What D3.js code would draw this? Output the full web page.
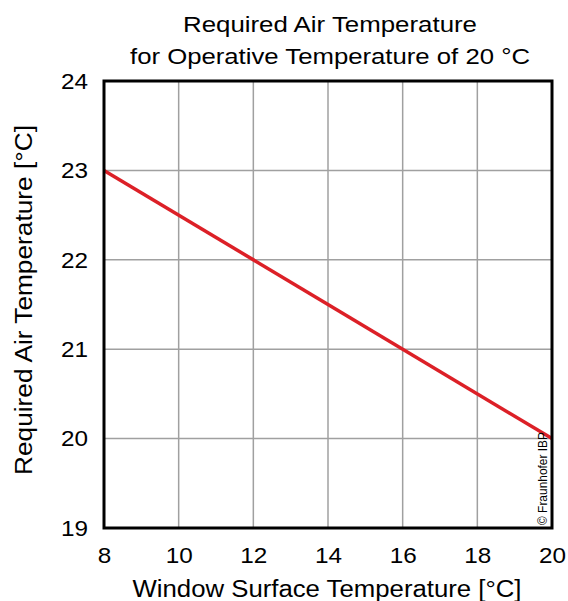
<!DOCTYPE html>
<html>
<head>
<meta charset="utf-8">
<script src="https://cdn.jsdelivr.net/npm/d3@7"></script>
<style>
  html, body { margin: 0; padding: 0; background: #fff; }
  svg { display: block; font-family: "Liberation Sans", Arial, sans-serif; }
</style>
</head>
<body>
<svg id="chart" width="568" height="601"></svg>
<script>
// Window surface temperature (°C) and the air temperature needed for 20 °C operative temperature
const windowTemp = [8, 14, 20];
const airTemp = [23, 21.5, 20];
const xTicks = [8, 10, 12, 14, 16, 18, 20];
const yTicks = [19, 20, 21, 22, 23, 24];
const titleLines = ["Required Air Temperature", "for Operative Temperature of 20 °C"];
const xTitle = "Window Surface Temperature [°C]";
const yTitle = "Required Air Temperature [°C]";
const credit = "© Fraunhofer IBP";

const svg = d3.select("#chart");
const plotLeft = 104, plotRight = 552, plotTop = 81, plotBottom = 528;

const x = d3.scaleLinear().domain([8, 20]).range([plotLeft, plotRight]);
const y = d3.scaleLinear().domain([19, 24]).range([plotBottom, plotTop]);

// grid
const grid = svg.append("g");
grid.selectAll(".gx").data(xTicks).join("line")
  .attr("x1", d => x(d)).attr("x2", d => x(d))
  .attr("y1", plotTop).attr("y2", plotBottom)
  .attr("stroke", "#a0a0a0").attr("stroke-width", 1.5);
grid.selectAll(".gy").data(yTicks).join("line")
  .attr("y1", d => y(d)).attr("y2", d => y(d))
  .attr("x1", plotLeft).attr("x2", plotRight)
  .attr("stroke", "#a0a0a0").attr("stroke-width", 1.5);

// axes (labels only; frame drawn separately)
const fmt = d3.format("d");
const xAxis = svg.append("g").attr("transform", `translate(0,${plotBottom})`)
  .call(d3.axisBottom(x).tickValues(xTicks).tickSize(0).tickPadding(19).tickFormat(fmt));
const yAxis = svg.append("g").attr("transform", `translate(${plotLeft},0)`)
  .call(d3.axisLeft(y).tickValues(yTicks).tickSize(0).tickPadding(16).tickFormat(fmt));
[xAxis, yAxis].forEach(a => {
  a.select(".domain").remove();
  a.selectAll("text").attr("font-size", 22.5).attr("fill", "#000")
    .attr("font-family", "Liberation Sans, Arial, sans-serif")
    .attr("lengthAdjust", "spacingAndGlyphs")
    .attr("textLength", d => 13.5 * fmt(d).length);
});

// data line
const line = d3.line().x((d, i) => x(windowTemp[i])).y(d => y(d));
svg.append("path").datum(airTemp)
  .attr("d", line)
  .attr("fill", "none")
  .attr("stroke", "#dc2027")
  .attr("stroke-width", 3.5)
  .attr("stroke-linejoin", "round");

// frame
svg.append("rect")
  .attr("x", plotLeft).attr("y", plotTop)
  .attr("width", plotRight - plotLeft).attr("height", plotBottom - plotTop)
  .attr("fill", "none").attr("stroke", "#000").attr("stroke-width", 3);

// title
const titleWidths = [294, 400];
svg.append("g").selectAll("text").data(titleLines).join("text")
  .attr("x", 330).attr("y", (d, i) => 31.5 + i * 32)
  .attr("text-anchor", "middle")
  .attr("font-size", 22)
  .attr("fill", "#000")
  .attr("lengthAdjust", "spacingAndGlyphs")
  .attr("textLength", (d, i) => titleWidths[i])
  .text(d => d);

// axis titles
svg.append("text")
  .attr("x", 327).attr("y", 596.5)
  .attr("text-anchor", "middle").attr("font-size", 23.5).attr("fill", "#000")
  .attr("lengthAdjust", "spacingAndGlyphs").attr("textLength", 389)
  .text(xTitle);
svg.append("text")
  .attr("transform", `translate(32,300) rotate(-90)`)
  .attr("text-anchor", "middle").attr("font-size", 23.5).attr("fill", "#000")
  .attr("lengthAdjust", "spacingAndGlyphs").attr("textLength", 350)
  .text(yTitle);

// credit
svg.append("text")
  .attr("transform", `translate(546.5,${plotBottom - 3}) rotate(-90)`)
  .attr("text-anchor", "start").attr("font-size", 12).attr("fill", "#000")
  .attr("lengthAdjust", "spacingAndGlyphs").attr("textLength", 93)
  .text(credit);
</script>
</body>
</html>
